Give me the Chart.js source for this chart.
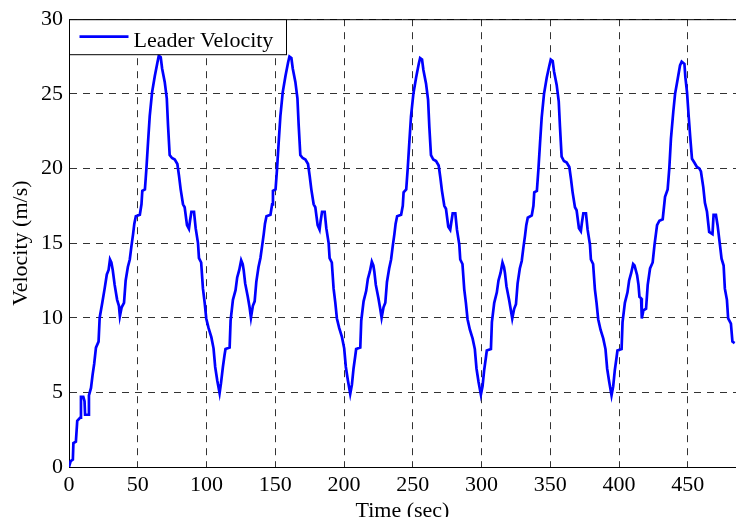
<!DOCTYPE html>
<html>
<head>
<meta charset="utf-8">
<title>Leader Velocity</title>
<script src="https://cdn.jsdelivr.net/npm/chart.js@4.4.1/dist/chart.umd.min.js"></script>
<style>
  html, body { margin: 0; padding: 0; background: #fff; }
  canvas { display: block; }
</style>
</head>
<body>
<canvas id="velocity-chart" width="736" height="517"></canvas>
<script>
// Etiquetas y ejes
const seriesLabel = 'Leader Velocity';
const xAxisLabel = 'Time (sec)';
const yAxisLabel = 'Velocity (m/s)';
const xTicks = [0, 50, 100, 150, 200, 250, 300, 350, 400, 450];
const yTicks = [0, 5, 10, 15, 20, 25, 30];

// Tiempo (s), un renglón por ciclo
const timeSec = [
  0, 1.2, 2.8, 3.2, 5, 6, 8, 8.7, 10.4, 11.3, 11.7, 14, 14.5, 16, 17.2, 18.3, 19.6, 21.5, 22.3, 24.2, 26, 27.5, 28.8, 29.8, 30.8, 31.8, 33.2, 35, 36.3, 37, 38.3, 40, 41.2, 42.8, 44.2, 45.4, 46.6, 47.5, 48.6, 51.5, 52.7, 53.3, 55.2, 56.3, 57.5, 58.7, 60.4, 62.4, 64.3, 65.3, 66.7, 67.7, 69.6, 71.1, 72, 73.2, 74.9, 76.9, 78.8, 80, 81.2, 82.9, 84.1, 85.8, 87.2, 88, 89, 90.9, 92.1, 93.8, 94.5, 96.1, 97.4, 98.6, 99.8, 101.5, 103.5, 105.1, 106.3, 107.8, 109.5,
  110.5, 111.9, 113.1, 113.8, 116.8, 117.5, 119.2, 121.1, 122.3, 123.8, 125.2, 126.3, 127, 128.1, 130, 131.3, 132.3, 133.7, 135, 136.2, 137.8, 139.2, 140.4, 141.6, 142.5, 143.6, 146.5, 147.7, 148.3, 150.2, 151.3, 152.5, 153.7, 155.4, 157.4, 159.3, 160.3, 161.7, 162.7, 164.6, 166.1, 167, 168.2, 169.9, 171.9, 173.8, 175, 176.2, 177.9, 179.1, 180.8, 182.2, 183, 184, 185.9, 187.1, 188.8, 189.5, 191.1, 192.4, 193.6, 194.8, 196.5, 198.5, 200.1, 201.3, 202.8, 204.5,
  205.7, 206.9, 208.1, 208.8, 211.8, 212.5, 214.2, 216.1, 217.3, 218.8, 220.2, 221.3, 222, 223.1, 225, 226.3, 227.3, 228.7, 230, 231.2, 232.8, 234.2, 235.4, 236.6, 237.5, 238.6, 241.5, 242.7, 243.3, 245.2, 246.3, 247.5, 248.7, 250.4, 252.4, 254.3, 255.3, 256.7, 257.7, 259.6, 261.1, 262, 263.2, 264.9, 266.9, 268.8, 270, 271.2, 272.9, 274.1, 275.8, 277.2, 278, 279, 280.9, 282.1, 283.8, 284.5, 286.1, 287.4, 288.6, 289.8, 291.5, 293.5, 295.1, 296.3, 297.8, 299.5,
  300.7, 301.9, 303.1, 303.8, 306.8, 307.5, 309.2, 311.1, 312.3, 313.8, 315.2, 316.3, 317, 318.1, 320, 321.3, 322.3, 323.7, 325, 326.2, 327.8, 329.2, 330.4, 331.6, 332.5, 333.6, 336.5, 337.7, 338.3, 340.2, 341.3, 342.5, 343.7, 345.4, 347.4, 349.3, 350.3, 351.7, 352.7, 354.6, 356.1, 357, 358.2, 359.9, 361.9, 363.8, 365, 366.2, 367.9, 369.1, 370.8, 372.2, 373, 374, 375.9, 377.1, 378.8, 379.5, 381.1, 382.4, 383.6, 384.8, 386.5, 388.5, 390.1, 391.3, 392.8, 394.5,
  395.7, 396.9, 398.1, 398.8, 401.8, 402.5, 404.2, 406.1, 407.3, 408.8, 410.2, 411.2, 413.1, 414.1, 414.8, 416, 416.5, 417.7, 419.6, 420.8, 422.5, 424.4, 425.7, 427.6, 429.3, 431.7, 433.4, 435.3, 436.5, 437.7, 439.4, 440.7, 442.6, 444.3, 445.5, 447.5, 448.2, 449.4, 450.6, 451.8, 453, 454.7, 456.6, 458.3, 459.5, 461.2, 462.4, 463.9, 465.5, 467.9, 468.7, 470.4, 471.6, 473.3, 474.5, 476, 476.9, 478.4, 479.3, 481.3, 482.4, 484
];

// Velocidad del líder (m/s)
const velocity = [
  0, 0.4, 0.5, 1.6, 1.7, 3.1, 3.3, 4.7, 4.7, 4.4, 3.5, 3.5, 4.8, 5.3, 6.2, 6.9, 8.0, 8.4, 10.0, 11.0, 12.0, 12.9, 13.2, 13.9, 13.7, 13.2, 12.2, 11.2, 10.8, 10.1, 10.7, 11.0, 12.5, 13.4, 13.9, 14.8, 15.6, 16.3, 16.8, 16.9, 17.6, 18.5, 18.6, 20.0, 21.8, 23.5, 25.1, 26.2, 27.1, 27.55, 27.45, 26.7, 25.8, 24.7, 22.9, 20.9, 20.7, 20.6, 20.3, 19.5, 18.6, 17.6, 17.4, 16.2, 15.95, 16.5, 17.1, 17.1, 16.0, 15.0, 14.0, 13.7, 11.95, 11.05, 9.95, 9.3, 8.7, 7.95, 6.7, 5.8, 4.95,
  5.6, 6.7, 7.5, 7.9, 8.0, 9.8, 11.2, 11.85, 12.7, 13.2, 13.85, 13.6, 13.2, 12.3, 11.4, 10.7, 10.0, 10.8, 11.1, 12.4, 13.4, 14.0, 14.8, 15.6, 16.3, 16.8, 16.9, 17.6, 18.5, 18.6, 20.0, 21.8, 23.5, 25.1, 26.2, 27.1, 27.5, 27.4, 26.7, 25.8, 24.7, 22.9, 20.9, 20.7, 20.6, 20.3, 19.5, 18.6, 17.6, 17.4, 16.2, 15.9, 16.5, 17.1, 17.1, 16.0, 15.0, 14.0, 13.7, 11.95, 11.05, 9.95, 9.3, 8.7, 7.95, 6.7, 5.8, 4.9,
  5.5, 6.6, 7.4, 7.9, 8.0, 9.8, 11.1, 11.8, 12.6, 13.1, 13.75, 13.5, 13.1, 12.2, 11.3, 10.6, 10.0, 10.7, 11.0, 12.4, 13.3, 13.9, 14.8, 15.6, 16.3, 16.8, 16.9, 17.5, 18.4, 18.6, 20.0, 21.8, 23.5, 25.0, 26.1, 27.0, 27.4, 27.3, 26.6, 25.7, 24.6, 22.8, 20.9, 20.6, 20.5, 20.2, 19.4, 18.5, 17.5, 17.3, 16.1, 15.9, 16.4, 17.0, 17.0, 15.9, 14.9, 13.9, 13.6, 11.9, 11.0, 9.9, 9.2, 8.6, 7.9, 6.6, 5.7, 4.85,
  5.4, 6.5, 7.3, 7.8, 7.9, 9.7, 11.0, 11.7, 12.5, 13.0, 13.7, 13.4, 13.0, 12.1, 11.2, 10.5, 9.95, 10.6, 10.9, 12.3, 13.3, 13.8, 14.7, 15.5, 16.2, 16.7, 16.85, 17.5, 18.4, 18.5, 19.9, 21.7, 23.4, 25.0, 26.1, 26.9, 27.3, 27.2, 26.5, 25.6, 24.5, 22.8, 20.8, 20.5, 20.4, 20.1, 19.3, 18.4, 17.4, 17.2, 16.0, 15.8, 16.4, 17.0, 17.0, 15.9, 14.9, 13.9, 13.6, 11.9, 11.0, 9.9, 9.2, 8.6, 7.9, 6.6, 5.7, 4.8,
  5.4, 6.5, 7.3, 7.8, 7.9, 9.7, 11.0, 11.7, 12.5, 13.0, 13.6, 13.5, 12.85, 12.2, 11.4, 11.3, 9.95, 10.5, 10.6, 12.2, 13.3, 13.7, 14.85, 16.2, 16.5, 16.6, 18.1, 18.6, 20.0, 22.0, 23.8, 25.0, 26.0, 26.9, 27.15, 27.0, 26.1, 25.1, 23.5, 22.0, 20.65, 20.4, 20.1, 20.0, 19.8, 18.75, 17.7, 17.1, 15.75, 15.6, 16.9, 16.9, 16.2, 14.9, 13.96, 13.5, 11.95, 11.2, 9.95, 9.6, 8.4, 8.3
];

if (timeSec.length !== velocity.length) {
    console.warn('timeSec y velocity no tienen el mismo largo', timeSec.length, velocity.length);
}

const FONT = 'Liberation Serif';
const LINE_BLUE = '#0000ff';

// Marco superior y leyenda con borde, al estilo MATLAB
const matlabFrame = {
    id: 'matlabFrame',
    afterDraw(chart) {
        const { ctx, chartArea } = chart;
        const ds = chart.data.datasets[0];
        ctx.save();
        ctx.strokeStyle = '#000';
        ctx.lineWidth = 1;
        ctx.beginPath();
        ctx.moveTo(chartArea.left, chartArea.top + 0.5);
        ctx.lineTo(chartArea.right, chartArea.top + 0.5);
        ctx.stroke();

        // leyenda
        const bx = chartArea.left + 0.5, by = chartArea.top + 0.5, bw = 217, bh = 35;
        ctx.fillStyle = '#fff';
        ctx.fillRect(bx, by, bw, bh);
        ctx.strokeRect(bx, by, bw, bh);
        ctx.strokeStyle = ds.borderColor;
        ctx.lineWidth = ds.borderWidth;
        ctx.beginPath();
        ctx.moveTo(bx + 10, by + 17);
        ctx.lineTo(bx + 59, by + 17);
        ctx.stroke();
        ctx.fillStyle = '#000';
        ctx.font = '22px "' + FONT + '"';
        ctx.textBaseline = 'alphabetic';
        ctx.textAlign = 'left';
        ctx.fillText(ds.label, bx + 64, by + 27);
        ctx.restore();
    }
};

const points = timeSec.map((t, i) => ({ x: t, y: velocity[i] }));

new Chart(document.getElementById('velocity-chart').getContext('2d'), {
    type: 'line',
    data: {
        datasets: [{
            label: seriesLabel,
            data: points,
            borderColor: LINE_BLUE,
            borderWidth: 2.7,
            pointRadius: 0,
            tension: 0,
            fill: false
        }]
    },
    options: {
        responsive: false,
        animation: false,
        devicePixelRatio: 1,
        layout: { padding: { top: 19, right: 0, left: 0, bottom: 0 } },
        plugins: {
            legend: { display: false },
            tooltip: { enabled: false }
        },
        scales: {
            x: {
                type: 'linear',
                min: 0,
                max: 485,
                afterBuildTicks: axis => { axis.ticks = xTicks.map(v => ({ value: v })); },
                afterFit: scale => { scale.height = 50; },
                ticks: { color: '#000', padding: 5, font: { family: FONT, size: 22 } },
                grid: { color: '#333', lineWidth: 1, drawTicks: false },
                border: { color: '#000', width: 1, dash: [7, 6] },
                title: {
                    display: true,
                    text: xAxisLabel,
                    color: '#000',
                    padding: 0,
                    font: { family: FONT, size: 22, lineHeight: 0.5 }
                }
            },
            y: {
                min: 0,
                max: 30,
                afterBuildTicks: axis => { axis.ticks = yTicks.map(v => ({ value: v })); },
                afterFit: scale => { scale.width = 69; },
                ticks: { color: '#000', padding: 6, font: { family: FONT, size: 22 } },
                grid: { color: '#333', lineWidth: 1, drawTicks: false },
                border: { color: '#000', width: 1, dash: [7, 6] },
                title: {
                    display: true,
                    text: yAxisLabel,
                    color: '#000',
                    padding: { top: 8, bottom: 0 },
                    font: { family: FONT, size: 22 }
                }
            }
        }
    },
    plugins: [matlabFrame]
});
</script>
</body>
</html>
